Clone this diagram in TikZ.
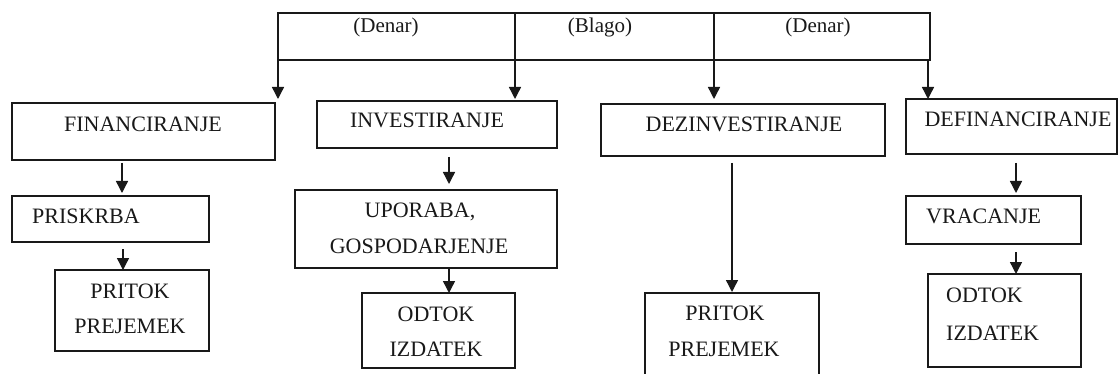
\documentclass[tikz,border=0pt]{standalone}
\usepackage{fontspec}
\setmainfont{Liberation Serif}
\usetikzlibrary{arrows.meta}
\definecolor{ink}{gray}{0.1}
\begin{document}
\begin{tikzpicture}[x=1pt,y=-1pt,
  box/.style={rectangle, draw=ink, line width=1.4pt, inner sep=0pt, outer sep=0pt},
  txt/.style={inner sep=0pt, anchor=base, text=ink, font=\fontsize{22}{26}\selectfont},
  txtl/.style={txt, anchor=base west},
  lbl/.style={txt, font=\fontsize{21}{25}\selectfont},
  link/.style={draw=ink, line width=1.4pt},
  arr/.style={link, -{Triangle[width=12pt,length=12pt]}}]
\clip (0,0) rectangle (1119,374);
\fill[white] (0,0) rectangle (1119,374);

% distribution frame across the top
\coordinate (fTL) at (278,13);
\coordinate (fBR) at (930,60);
\draw[link] (fTL) rectangle (fBR);
\coordinate (a1) at (278,60);
\coordinate (a2) at (515,13);
\coordinate (a3) at (714,13);
\coordinate (a4) at (928,60);
\node[lbl] (den1) at (386,33) {(Denar)};
\node[lbl] (blago) at (600,33) {(Blago)};
\node[lbl] (den2) at (818,33) {(Denar)};

% first row
\node[box, minimum width=263pt, minimum height=57pt] (fin) at (143.5,131.5) {};
\node[box, minimum width=240pt, minimum height=47pt] (inv) at (437,124.5) {};
\node[box, minimum width=284pt, minimum height=52pt] (dez) at (743,130) {};
\node[box, minimum width=211pt, minimum height=55pt] (def) at (1011.5,126.5) {};
\node[txt] (finT) at (143,132) {FINANCIRANJE};
\node[txt] (invT) at (427,128) {INVESTIRANJE};
\node[txt] (dezT) at (744,132) {DEZINVESTIRANJE};
\node[txt] (defT) at (1018,127) {DEFINANCIRANJE};

% second row
\node[box, minimum width=197pt, minimum height=46pt] (pri) at (110.5,219) {};
\node[box, minimum width=262pt, minimum height=78pt] (upo) at (426,229) {};
\node[box, minimum width=175pt, minimum height=48pt] (vra) at (993.5,220) {};
\node[txtl] (priT) at (32,223) {PRISKRBA};
\node[txt] (upoT1) at (420,218) {UPORABA,};
\node[txt] (upoT2) at (419,253) {GOSPODARJENJE};
\node[txtl] (vraT) at (926,223) {VRACANJE};

% third row
\node[box, minimum width=154pt, minimum height=81pt] (pr1) at (132,310.5) {};
\node[box, minimum width=153pt, minimum height=75pt] (od1) at (438.5,330.5) {};
\node[box, minimum width=174pt, minimum height=90pt] (pr2) at (732,338) {};
\node[box, minimum width=153pt, minimum height=93pt] (od2) at (1004.5,320.5) {};
\node[txt] (pr1T1) at (130,298) {PRITOK};
\node[txt] (pr1T2) at (130,333) {PREJEMEK};
\node[txt] (od1T1) at (436,321) {ODTOK};
\node[txt] (od1T2) at (436,356) {IZDATEK};
\node[txt] (pr2T1) at (725,320) {PRITOK};
\node[txt] (pr2T2) at (724,356) {PREJEMEK};
\node[txtl] (od2T1) at (946,302) {ODTOK};
\node[txtl] (od2T2) at (946,340) {IZDATEK};

% arrows out of the frame
\draw[arr, shorten >=4pt] (a1) -- (a1 |- fin.north);
\draw[arr, shorten >=2pt] (a2) -- (a2 |- inv.north);
\draw[arr, shorten >=5pt] (a3) -- (a3 |- dez.north);
\draw[link] (930,60) -- (a4);
\draw[arr] (a4) -- (a4 |- def.north);

% arrows down each column
\draw[arr, shorten <=3pt, shorten >=3pt] ([xshift=-21.5pt]fin.south) -- ([xshift=11.5pt]pri.north);
\draw[arr, shorten <=7pt] ([xshift=12.5pt]pri.south) -- ([xshift=-9pt]pr1.north);
\draw[arr, shorten <=9pt, shorten >=6pt] ([xshift=12pt]inv.south) -- ([xshift=23pt]upo.north);
\draw[arr] ([xshift=23pt]upo.south) -- ([xshift=10.5pt]od1.north);
\draw[arr, shorten <=7pt, shorten >=1pt] ([xshift=-11pt]dez.south) -- (pr2.north);
\draw[arr, shorten <=9pt, shorten >=3pt] ([xshift=4.5pt]def.south) -- ([xshift=22.5pt]vra.north);
\draw[arr, shorten <=8pt] ([xshift=22.5pt]vra.south) -- ([xshift=11.5pt]od2.north);
\end{tikzpicture}
\end{document}
